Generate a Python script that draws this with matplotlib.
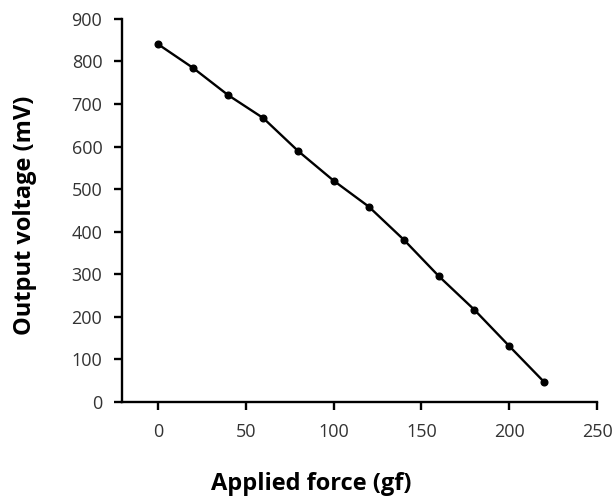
import matplotlib
matplotlib.use("Agg")
import matplotlib.pyplot as plt

force_gf = [0, 20, 40, 60, 80, 100, 120, 140, 160, 180, 200, 220]
voltage_mV = [841, 785, 721, 667, 589, 520, 459, 381, 295, 217, 131, 46]
x_ticks = [0, 50, 100, 150, 200, 250]
y_ticks = [0, 100, 200, 300, 400, 500, 600, 700, 800, 900]

plt.rcParams['font.family'] = ['Open Sans', 'DejaVu Sans']

fig = plt.figure(figsize=(6.15, 4.98), dpi=100)
ax = fig.add_axes([0.198, 0.193, 0.773, 0.769])
ax.plot(force_gf, voltage_mV, color='black', lw=1.7, marker='o', ms=4.8)
ax.set_xlim(-20.5, 250)
ax.set_ylim(0, 900)
ax.set_xticks(x_ticks)
ax.set_yticks(y_ticks)
for s in ['top', 'right']:
    ax.spines[s].set_visible(False)
for s in ['left', 'bottom']:
    ax.spines[s].set_linewidth(1.7)
ax.tick_params(axis='both', direction='out', length=6, width=1.7,
               labelsize=13, labelcolor='#333333', pad=8)
ax.tick_params(axis='x', pad=9)
fig.text(311 / 615, 1 - 490 / 498, 'Applied force (gf)', fontsize=17,
         fontweight='bold', ha='center', va='baseline')
fig.text(25 / 615, 1 - 215 / 498, 'Output voltage (mV)', fontsize=17,
         fontweight='bold', ha='center', va='center', rotation=90)
fig.savefig('out.png', dpi=100)
